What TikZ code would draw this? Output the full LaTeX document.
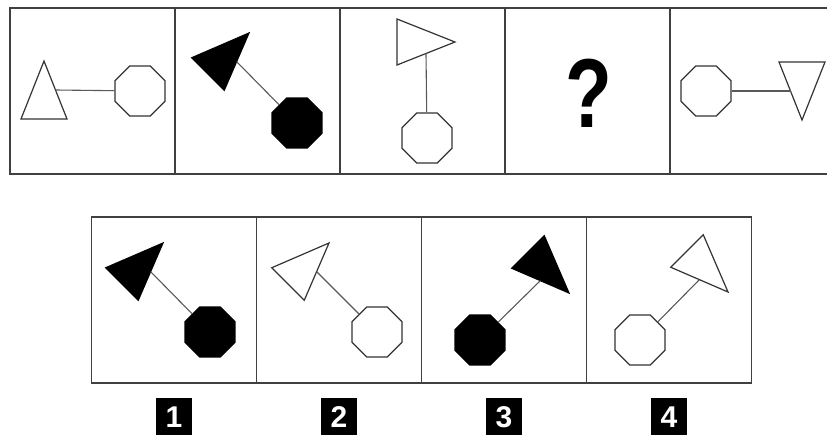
\documentclass[tikz,border=0pt]{standalone}
\usepackage{fontspec}
\setsansfont{Liberation Sans}
\usetikzlibrary{shapes.geometric, positioning}

\begin{document}
\begin{tikzpicture}[
    x=1pt, y=-1pt, node distance=15pt,
    frame/.style={rectangle, draw=black!75, line width=1.6pt, minimum width=165pt, minimum height=166pt, inner sep=0pt, outer sep=0pt},
    oct/.style={regular polygon, regular polygon sides=8, draw=black!80, line width=1.2pt, minimum size=54pt, inner sep=0pt},
    tri/.style={isosceles triangle, isosceles triangle stretches, draw=black!80, line width=1.2pt, minimum width=46pt, minimum height=58pt, inner sep=0pt, outer sep=0pt, anchor=apex},
    dark/.style={fill=black, draw=black},
    stem/.style={draw=black!65, line width=1.1pt},
    tag/.style={rectangle, fill=black, text=white, font=\sffamily\bfseries\fontsize{30}{30}\selectfont, minimum width=36pt, minimum height=38pt, inner sep=0pt}
]
    \useasboundingbox (0,0) rectangle (827,434);

    \node[frame] (t1) at (92.5,91) {};
    \node[frame, right=0pt of t1] (t2) {};
    \node[frame, right=0pt of t2] (t3) {};
    \node[frame, right=0pt of t3] (t4) {};
    \node[frame, right=0pt of t4] (t5) {};

    \node[frame] (b1) at (174,300) {};
    \node[frame, right=0pt of b1] (b2) {};
    \node[frame, right=0pt of b2] (b3) {};
    \node[frame, right=0pt of b3] (b4) {};

    \node[tri, rotate=90] (tri1) at (44,61) {};
    \node[oct] (oct1) at (140,91) {};
    \node[tri, dark, rotate=45] (tri2) at (249,33) {};
    \node[oct, dark] (oct2) at (297,123) {};
    \node[tri] (tri3) at (455,42) {};
    \node[oct] (oct3) at (427,138) {};
    \node[font=\sffamily\bfseries\fontsize{98}{98}\selectfont, inner sep=0pt, anchor=base] (ask) at (589,127) {\scalebox{0.78}[1]{?}};
    \node[oct] (oct5) at (706,91) {};
    \node[tri, rotate=-90] (tri5) at (802,120) {};

    \node[tri, dark, rotate=45] (optri1) at (163,243) {};
    \node[oct, dark] (opoct1) at (210,332) {};
    \node[tri, rotate=45] (optri2) at (329,243) {};
    \node[oct] (opoct2) at (377,332) {};
    \node[tri, dark, rotate=-45] (optri3) at (569,293) {};
    \node[oct, dark] (opoct3) at (480,340) {};
    \node[tri, rotate=-45] (optri4) at (728,292) {};
    \node[oct] (opoct4) at (640,340) {};

    \path[stem]
        (tri1.right side) edge (oct1)
        (tri2.right side) edge (oct2)
        (tri3.right side) edge (oct3)
        (tri5.right side) edge (oct5)
        (optri1.right side) edge (opoct1)
        (optri2.right side) edge (opoct2)
        (optri3.right side) edge (opoct3)
        (optri4.right side) edge (opoct4);

    \node[tag, below=of b1] (n1) {1};
    \node[tag, below=of b2] (n2) {2};
    \node[tag, below=of b3] (n3) {3};
    \node[tag, below=of b4] (n4) {4};
\end{tikzpicture}
\end{document}
